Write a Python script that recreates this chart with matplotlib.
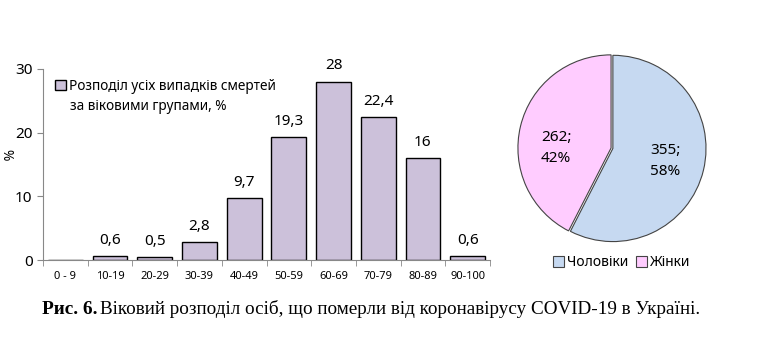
import numpy as np
import matplotlib.pyplot as plt
import matplotlib

matplotlib.rcParams['font.family'] = ['Noto Sans', 'DejaVu Sans']
matplotlib.rcParams['figure.facecolor'] = 'white'

age_groups = ['0 - 9', '10-19', '20-29', '30-39', '40-49', '50-59', '60-69', '70-79', '80-89', '90-100']
share = [0, 0.6, 0.5, 2.8, 9.7, 19.3, 28, 22.4, 16, 0.6]
share_labels = ['', '0,6', '0,5', '2,8', '9,7', '19,3', '28', '22,4', '16', '0,6']

sex_labels = ['Чоловіки', 'Жінки']
sex_counts = [355, 262]
sex_pct = [58, 42]

W, H = 776, 354
fig = plt.figure(figsize=(W/100, H/100), dpi=100)

# bar chart
ax = fig.add_axes([43/W, (H-260)/H, (490-43)/W, (260-69)/H])
x = np.arange(len(age_groups))
bars = ax.bar(x, share, width=0.78, color='#ccc1da', edgecolor='black', lw=1)
for xi, v, lab in zip(x, share, share_labels):
    if lab:
        ax.text(xi, v + 1.3, lab, ha='center', va='bottom', fontsize=11)
ax.set_xlim(-0.5, len(age_groups) - 0.5)
ax.set_ylim(0, 30)
ax.set_yticks([0, 10, 20, 30])
ax.set_xticks(x)
ax.set_xticklabels(age_groups, fontsize=8)
ax.set_xticks(np.arange(-0.5, len(age_groups)), minor=True)
ax.tick_params(axis='x', which='major', length=0, pad=8)
ax.tick_params(axis='x', which='minor', length=4, color='#888888', direction='out')
ax.tick_params(axis='y', length=4, color='#888888', labelsize=11)
for s in ['top', 'right']:
    ax.spines[s].set_visible(False)
for s in ['left', 'bottom']:
    ax.spines[s].set_color('#888888')
# legend: handle next to first line, second line as plain text below
ax.legend([bars[0]], ['Розподіл усіх випадків смертей'],
          loc='center left', bbox_to_anchor=(0.015, 1 - (86-69)/191), frameon=False, fontsize=9.8,
          handlelength=0.8, handleheight=0.8, handletextpad=0.25, borderaxespad=0)
fig.text(70/W, 1 - 106/H, 'за віковими групами, %', fontsize=9.8, va='center')
fig.text(6/W, 1 - 155/H, '%', rotation=270, ha='center', va='center', fontsize=10)

# pie chart
r = 95
pax = fig.add_axes([(612-r)/W, (H-148-r)/H, 2*r/W, 2*r/H])
pie_labels = ['%d;\n%d%%' % (c, p) for c, p in zip(sex_counts, sex_pct)]
wedges, texts = pax.pie(sex_counts, colors=['#c6d9f1', '#ffccff'], startangle=90, counterclock=False,
                        explode=[0.02, 0.0], labels=pie_labels, labeldistance=0.58,
                        wedgeprops=dict(edgecolor='#444444', linewidth=0.8),
                        textprops=dict(fontsize=11, ha='center', va='center', linespacing=1.6))
texts[1].set_position((-0.59, 0.0))
pax.set_aspect('equal')
pax.set_xlim(-1.01, 1.03)
pax.set_ylim(-1.02, 1.02)
pax.legend(wedges, sex_labels, loc='center', bbox_to_anchor=(0.55, -0.105), ncol=2,
           frameon=False, fontsize=10, handlelength=0.8, handleheight=0.8,
           handletextpad=0.2, columnspacing=0.6, borderaxespad=0)

# caption
fig.text(42/W, 1 - 309/H, 'Рис. 6.', fontsize=13.9, fontweight='bold', family='Liberation Serif',
         va='center')
fig.text(100/W, 1 - 309/H, 'Віковий розподіл осіб, що померли від коронавірусу COVID-19 в Україні.',
         fontsize=13.8, family='Liberation Serif', va='center')

fig.savefig('out.png', dpi=100)
